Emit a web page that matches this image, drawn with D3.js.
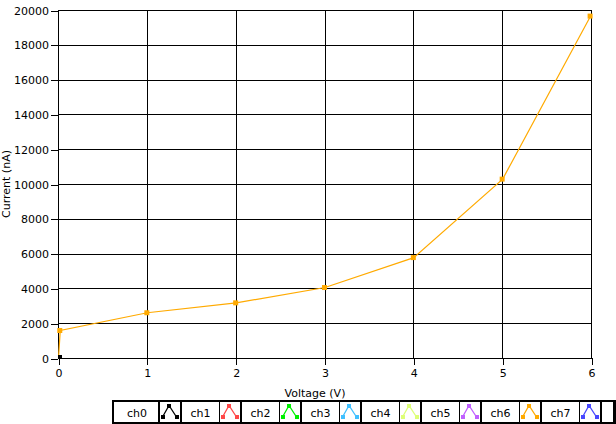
<!DOCTYPE html>
<html><head><meta charset="utf-8">
<script src="https://cdn.jsdelivr.net/npm/d3@7/dist/d3.min.js"></script>
<style>
html,body{margin:0;padding:0;background:#fff;}
svg{display:block;font-family:"DejaVu Sans",Verdana,sans-serif;}
</style></head>
<body>
<svg id="c" width="616" height="424"></svg>
<script>
// ---- data ----
const xTicks = [0, 1, 2, 3, 4, 5, 6];
const yTicks = [0, 2000, 4000, 6000, 8000, 10000, 12000, 14000, 16000, 18000, 20000];
const ch0X = [0];
const ch0Y = [0];
const ch6X = [0, 0.02, 1, 2, 3, 4, 5, 5.99];
const ch6Y = [0, 1580, 2600, 3170, 4050, 5770, 10280, 19650];
const seriesNames = ["ch0", "ch1", "ch2", "ch3", "ch4", "ch5", "ch6", "ch7"];
const seriesColors = ["#000000", "#ff4848", "#00f000", "#40c0ff", "#ddff77", "#c060ff", "#ffaa00", "#4848ff"];
const xLabel = "Voltage (V)";
const yLabel = "Current (nA)";

const svg = d3.select("#c");
const x = d3.scaleLinear().domain([0, 6]).range([58, 591]);
const y = d3.scaleLinear().domain([0, 20000]).range([358, 10]);

// grid
const g = svg.append("g").attr("shape-rendering", "crispEdges");
g.selectAll("line.vx").data(xTicks).join("line")
  .attr("x1", d => Math.round(x(d)) + 0.5).attr("x2", d => Math.round(x(d)) + 0.5)
  .attr("y1", y(20000)).attr("y2", y(0)).attr("stroke", "#000");
g.selectAll("line.hy").data(yTicks).join("line")
  .attr("y1", d => Math.round(y(d)) + 0.5).attr("y2", d => Math.round(y(d)) + 0.5)
  .attr("x1", x(0)).attr("x2", x(6) + 1).attr("stroke", "#000");

// axes
const ya = svg.append("g").attr("transform", `translate(${x(0)},0.5)`)
  .call(d3.axisLeft(y).tickValues(yTicks).tickSize(7).tickPadding(2).tickFormat(d3.format("d")));
const xa = svg.append("g").attr("transform", `translate(0.5,${y(0)})`)
  .call(d3.axisBottom(x).tickValues(xTicks).tickSize(7).tickPadding(4).tickFormat(d3.format("d")));
[ya, xa].forEach(a => {
  a.select(".domain").remove();
  a.selectAll("text").attr("font-size", 11).attr("font-family", "DejaVu Sans").attr("fill", "#000");
  a.selectAll("line").attr("stroke", "#000").attr("shape-rendering", "crispEdges");
});

// series ch6 (orange)
const pts6 = ch6X.map((v, i) => [v, ch6Y[i]]);
svg.append("path").datum(pts6)
  .attr("d", d3.line().x(d => x(d[0]) + 0.5).y(d => y(d[1])))
  .attr("fill", "none").attr("stroke", seriesColors[6]).attr("stroke-width", 1.2);
svg.selectAll("rect.m6").data(pts6.slice(1)).join("rect")
  .attr("x", d => x(d[0]) - 2.5).attr("y", d => y(d[1]) - 2.5)
  .attr("width", 5).attr("height", 5).attr("fill", seriesColors[6]);

// series ch0 (black)
const pts0 = ch0X.map((v, i) => [v, ch0Y[i]]);
svg.selectAll("rect.m0").data(pts0).join("rect")
  .attr("x", d => x(d[0])).attr("y", d => y(d[1]) - 3)
  .attr("width", 4).attr("height", 4).attr("fill", seriesColors[0]);

// axis labels
svg.append("text").attr("x", 315).attr("y", 397).attr("text-anchor", "middle")
  .attr("font-size", 11).text(xLabel);
svg.append("text").attr("transform", "translate(10,184) rotate(-90)").attr("text-anchor", "middle")
  .attr("font-size", 11).text(yLabel);

// legend
const L = svg.append("g").attr("shape-rendering", "crispEdges");
L.append("rect").attr("x", 112).attr("y", 400).attr("width", 504).attr("height", 24).attr("fill", "#000");
const cells = L.selectAll("g.cell").data(seriesNames).join("g");
cells.append("rect")
  .attr("x", (d, i) => i === 0 ? 114 : 182 + 60 * (i - 1)).attr("y", 402)
  .attr("width", (d, i) => i === 0 ? 44 : 37).attr("height", 20).attr("fill", "#fff");
cells.append("text")
  .attr("x", (d, i) => i === 0 ? 137 : 182 + 60 * (i - 1) + 18.5).attr("y", 417)
  .attr("text-anchor", "middle").attr("font-size", 11).text(d => d);
const icons = L.selectAll("g.icon").data(seriesColors).join("g")
  .attr("transform", (d, i) => `translate(${160 + 60 * i},402)`);
icons.append("rect").attr("width", 20).attr("height", 20).attr("fill", "#fff");
icons.append("path").attr("d", "M2.5,15L9,3.5L16.5,15").attr("fill", "none")
  .attr("stroke", d => d).attr("stroke-width", 1.3).attr("shape-rendering", "auto");
icons.each(function (c) {
  d3.select(this).selectAll("rect.sq").data([[2.5, 15], [9, 3.5], [16.5, 15]]).join("rect")
    .attr("x", p => p[0] - 2).attr("y", p => p[1] - 2).attr("width", 4).attr("height", 4).attr("fill", c);
});
L.append("rect").attr("x", 602).attr("y", 402).attr("width", 11).attr("height", 20).attr("fill", "#fff");
</script>
</body></html>
